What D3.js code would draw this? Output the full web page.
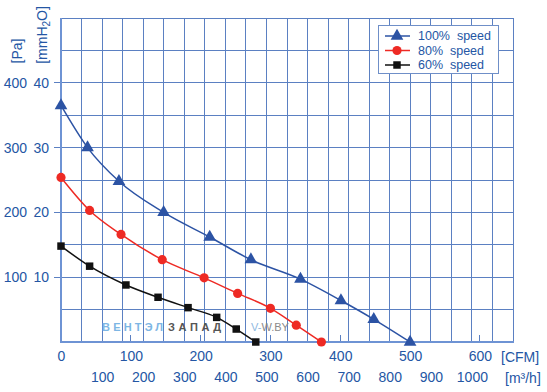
<!DOCTYPE html>
<html><head><meta charset="utf-8">
<script src="https://cdn.jsdelivr.net/npm/d3@7"></script>
<style>
html,body{margin:0;padding:0;background:#fff;}
svg{display:block;font-family:"Liberation Sans",Arial,sans-serif;}
</style></head>
<body><svg id="c" width="547" height="392"></svg>
<script>
// ---- data ----
const series = ["100%  speed", "80%  speed", "60%  speed"];
const cfm100 = [0, 38, 83, 147, 213, 272, 343, 401, 448, 500];
const pa100  = [365, 300, 248, 200, 162, 127, 97, 64, 35, 0];
const cfm80  = [0, 41, 86, 145, 205, 253, 300, 337, 373];
const pa80   = [254, 203, 166, 127, 99, 75, 52, 26, 0];
const cfm60  = [0, 41, 93, 139, 182, 223, 251, 279];
const pa60   = [148, 117, 88, 69, 53, 38, 20, 0];
const cfmTicks = [0, 100, 200, 300, 400, 500, 600];
const m3hTicks = [100, 200, 300, 400, 500, 600, 700, 800, 900, 1000];
const paTicks = [100, 200, 300, 400];
const mmTicks = [10, 20, 30, 40];

const svg = d3.select("#c");
const L = 61, R = 513, T = 18, B = 342;
const blue = "#2456a4";
const grid = "#5b80c2";

const xM = d3.scaleLinear().domain([0, 1100]).range([L, R]);
const xC = d3.scaleLinear().domain([0, 1100 / 1.699]).range([L, R]);
const y = d3.scaleLinear().domain([0, 500]).range([B, T]);
const yMm = d3.scaleLinear().domain([0, 50]).range([B, T]);

// grid
const g = svg.append("g");
g.selectAll(".v").data(d3.range(50, 1101, 50)).join("line")
  .attr("x1", d => xM(d)).attr("x2", d => xM(d)).attr("y1", T).attr("y2", B)
  .attr("stroke", grid).attr("stroke-width", 1).attr("shape-rendering", "crispEdges");
g.selectAll(".h").data(d3.range(50, 501, 50)).join("line")
  .attr("x1", L).attr("x2", R).attr("y1", d => y(d)).attr("y2", d => y(d))
  .attr("stroke", grid).attr("stroke-width", 1).attr("shape-rendering", "crispEdges");
// y ticks (outside)
g.selectAll(".yt").data(paTicks).join("line")
  .attr("x1", 54).attr("x2", L).attr("y1", d => y(d)).attr("y2", d => y(d))
  .attr("stroke", grid).attr("stroke-width", 1).attr("shape-rendering", "crispEdges");
// CFM ticks (inside, up from axis)
g.selectAll(".ct").data(cfmTicks.slice(1)).join("line")
  .attr("x1", d => xC(d)).attr("x2", d => xC(d)).attr("y1", B - 7).attr("y2", B)
  .attr("stroke", grid).attr("stroke-width", 1).attr("shape-rendering", "crispEdges");
// axes lines
svg.append("line").attr("x1", L).attr("x2", L).attr("y1", T).attr("y2", B + 1)
  .attr("stroke", "#6e93d4").attr("stroke-width", 2);
svg.append("line").attr("x1", L).attr("x2", R + 1).attr("y1", B).attr("y2", B)
  .attr("stroke", "#6e93d4").attr("stroke-width", 2);

// watermark
const wm = svg.append("g").attr("font-size", 11).attr("font-weight", "bold");
wm.append("text").attr("x", 102).attr("y", 331).attr("fill", "#7db6e4")
  .attr("letter-spacing", 3.2).text("ВЕНТЭЛ");
wm.append("text").attr("x", 168).attr("y", 331).attr("fill", "#555")
  .attr("letter-spacing", 3.6).text("ЗАПАД");
const wt = svg.append("text").attr("x", 251).attr("y", 331).attr("font-size", 11);
wt.append("tspan").attr("fill", "#8fb8e0").text("V-");
wt.append("tspan").attr("fill", "#8a8a8a").text("W.BY");

// axis label generators
function styleAxis(sel) {
  sel.select(".domain").remove();
  sel.selectAll(".tick line").remove();
  sel.selectAll("text").attr("fill", blue).attr("font-size", 14)
    .attr("font-family", "Liberation Sans, Arial, sans-serif");
}
const fmt = d3.format("d");
svg.append("g").attr("transform", `translate(0,${B})`)
  .call(d3.axisBottom(xC).tickValues(cfmTicks).tickFormat(fmt).tickSize(0).tickPadding(9))
  .call(styleAxis);
svg.append("g").attr("transform", `translate(0,${B + 21})`)
  .call(d3.axisBottom(xM).tickValues(m3hTicks).tickFormat(fmt).tickSize(0).tickPadding(9))
  .call(styleAxis);
svg.append("g").attr("transform", `translate(27,0)`)
  .call(d3.axisLeft(y).tickValues(paTicks).tickFormat(fmt).tickSize(0).tickPadding(0))
  .call(styleAxis);
svg.append("g").attr("transform", `translate(49,0)`)
  .call(d3.axisLeft(yMm).tickValues(mmTicks).tickFormat(fmt).tickSize(0).tickPadding(0))
  .call(styleAxis);

// unit labels
svg.append("text").attr("x", 501).attr("y", 362).attr("fill", blue).attr("font-size", 14).text("[CFM]");
svg.append("text").attr("x", 505).attr("y", 383).attr("fill", blue).attr("font-size", 14).text("[m³/h]");
svg.append("text").attr("transform", "translate(22,51) rotate(-90)").attr("text-anchor", "middle")
  .attr("fill", blue).attr("font-size", 14).text("[Pa]");
const mm = svg.append("text").attr("transform", "translate(47,35) rotate(-90)").attr("text-anchor", "middle")
  .attr("fill", blue).attr("font-size", 14);
mm.append("tspan").text("[mmH");
mm.append("tspan").attr("font-size", 10).attr("dy", 3).text("2");
mm.append("tspan").attr("dy", -3).text("O]");

// curves
const defs = [
  {name: series[0], cfm: cfm100, pa: pa100, color: "#2c53a4", sym: d3.symbolTriangle, size: 70},
  {name: series[1], cfm: cfm80, pa: pa80, color: "#ee2a24", sym: d3.symbolCircle, size: 66},
  {name: series[2], cfm: cfm60, pa: pa60, color: "#111111", sym: d3.symbolSquare, size: 56}
];
const line = d3.line().x(d => xC(d[0])).y(d => y(d[1])).curve(d3.curveMonotoneX);
defs.forEach(s => {
  const pts = s.cfm.map((c, i) => [c, s.pa[i]]);
  svg.append("path").attr("d", line(pts)).attr("fill", "none")
    .attr("stroke", s.color).attr("stroke-width", 1.5);
  svg.append("g").selectAll("path").data(pts).join("path")
    .attr("transform", d => `translate(${xC(d[0])},${y(d[1])})`)
    .attr("d", d3.symbol().type(s.sym).size(s.size)).attr("fill", s.color);
});

// legend
const lg = svg.append("g");
lg.append("rect").attr("x", 378.5).attr("y", 25.5).attr("width", 120).attr("height", 48)
  .attr("fill", "#fff").attr("stroke", "#6f8fc8").attr("stroke-width", 1);
const ly = d3.scalePoint().domain(series).range([36, 65]);
defs.forEach(s => {
  const yy = ly(s.name);
  lg.append("line").attr("x1", 385).attr("x2", 410).attr("y1", yy).attr("y2", yy)
    .attr("stroke", s.color).attr("stroke-width", 1.5);
  lg.append("path").attr("transform", `translate(397,${yy})`)
    .attr("d", d3.symbol().type(s.sym).size(s.size)).attr("fill", s.color);
  lg.append("text").attr("x", 418).attr("y", yy).attr("dy", "0.35em")
    .attr("font-size", 12.5).attr("fill", blue).style("white-space", "pre").text(s.name);
});
</script></body></html>
